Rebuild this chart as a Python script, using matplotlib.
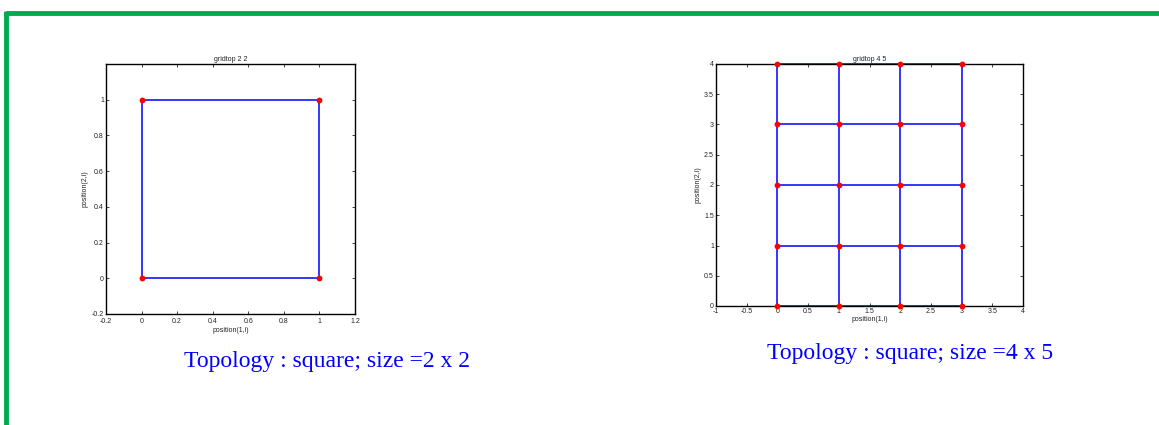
"""Two gridtop neuron layouts drawn on a slide panel."""
import matplotlib.pyplot as plt
import numpy as np
import matplotlib
matplotlib.rcParams['font.family'] = ['Liberation Sans', 'DejaVu Sans']

# layer sizes (columns x rows) and their axis limits / ticks
sizes = [(2, 2), (4, 5)]
titles = ['gridtop 2 2', 'gridtop 4 5']
captions = ['Topology : square; size =2 x 2', 'Topology : square; size =4 x 5']
xlims = [(-0.2, 1.2), (-1, 4)]
ylims = [(-0.2, 1.2), (0, 4)]
xticks = [[-0.2, 0, 0.2, 0.4, 0.6, 0.8, 1, 1.2],
          [-1, -0.5, 0, 0.5, 1, 1.5, 2, 2.5, 3, 3.5, 4]]
yticks = [[-0.2, 0, 0.2, 0.4, 0.6, 0.8, 1],
          [0, 0.5, 1, 1.5, 2, 2.5, 3, 3.5, 4]]

W, H = 1159, 425
fig = plt.figure(figsize=(W / 100, H / 100), dpi=100)

# green slide frame (top and left edges)
frame = fig.add_axes([0, 0, 1, 1])
frame.set_xlim(0, W)
frame.set_ylim(H, 0)
frame.axis('off')
frame.plot([5.5, W], [13, 13], color='#00aa4f', lw=3.5, solid_capstyle='butt')
frame.plot([5.5, 5.5], [11.3, H], color='#00aa4f', lw=3.5, solid_capstyle='butt')

# axes boxes in pixels: left, top, right, bottom
boxes = [(106, 64, 355, 314), (716, 64, 1023, 306)]
caption_pos = [(327, 362), (910, 354)]
xpads = [3.0, 1.5]


def fmt(v):
    return ('%g' % v)


for k, (nc, nr) in enumerate(sizes):
    l, t, r, b = boxes[k]
    ax = fig.add_axes([l / W, 1 - b / H, (r - l) / W, (b - t) / H])
    gx, gy = np.meshgrid(np.arange(nc), np.arange(nr))
    # horizontal links
    for j in range(nr):
        ax.plot(gx[j], gy[j], color='#0000ff', lw=1.1, zorder=2, clip_on=False)
    # vertical links
    for i in range(nc):
        ax.plot(gx[:, i], gy[:, i], color='#0000ff', lw=1.1, zorder=2, clip_on=False)
    ax.plot(gx.ravel(), gy.ravel(), 'o', color='#ff0000', ms=4.2, mec='none',
            zorder=3, clip_on=False)
    ax.set_xlim(*xlims[k])
    ax.set_ylim(*ylims[k])
    ax.set_xticks(xticks[k])
    ax.set_yticks(yticks[k])
    ax.set_xticklabels([fmt(v) for v in xticks[k]])
    ax.set_yticklabels([fmt(v) for v in yticks[k]])
    ax.tick_params(direction='in', length=2.5, width=0.6, labelsize=5,
                   top=True, right=True, pad=1.5, colors='#222222')
    ax.tick_params(axis='x', pad=xpads[k])
    for s in ax.spines.values():
        s.set_linewidth(1.0)
    ax.set_title(titles[k], fontsize=5, pad=2, color='#222222')
    ax.set_xlabel('position(1,i)', fontsize=5, labelpad=1, color='#222222')
    ax.set_ylabel('position(2,i)', fontsize=5, labelpad=2, color='#222222')
    cx, cy = caption_pos[k]
    fig.text(cx / W, 1 - cy / H, captions[k], ha='center', va='center',
             fontsize=17, color='#0000ff', family='Liberation Serif')

fig.savefig('out.png', dpi=100)
plt.close()
